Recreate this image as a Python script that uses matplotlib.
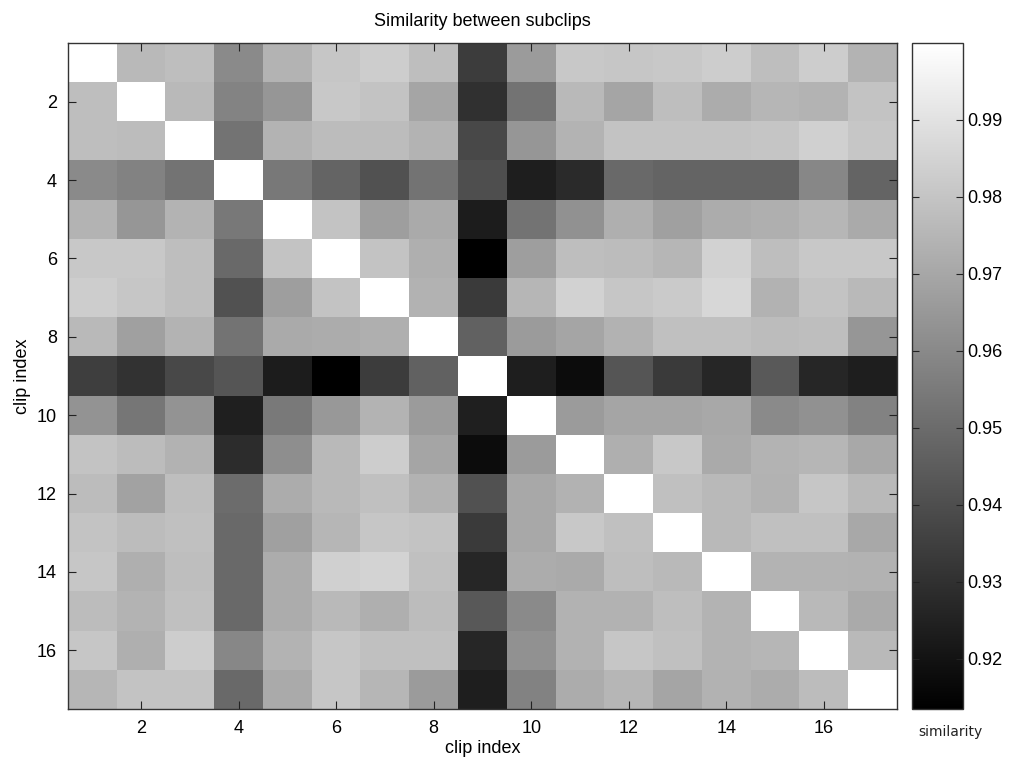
import numpy as np
import matplotlib
matplotlib.use("Agg")
import matplotlib.pyplot as plt

plt.rcParams['font.family'] = ['Liberation Sans', 'DejaVu Sans']

# pairwise similarity between the 17 subclips (row i, column j)
row01 = [1.0, 0.9762, 0.9779, 0.9603, 0.9745, 0.9806, 0.9830, 0.9779, 0.9338, 0.9661, 0.9813, 0.9806, 0.9813, 0.9830, 0.9779, 0.9830, 0.9745]
row02 = [0.9779, 1.0, 0.9762, 0.9582, 0.9644, 0.9813, 0.9796, 0.9694, 0.9298, 0.9525, 0.9762, 0.9694, 0.9779, 0.9718, 0.9752, 0.9745, 0.9796]
row03 = [0.9779, 0.9772, 1.0, 0.9525, 0.9745, 0.9772, 0.9772, 0.9745, 0.9379, 0.9644, 0.9745, 0.9796, 0.9796, 0.9796, 0.9803, 0.9840, 0.9806]
row04 = [0.9603, 0.9576, 0.9525, 1.0, 0.9542, 0.9474, 0.9413, 0.9525, 0.9399, 0.9237, 0.9277, 0.9491, 0.9474, 0.9474, 0.9474, 0.9593, 0.9474]
row05 = [0.9745, 0.9644, 0.9745, 0.9542, 1.0, 0.9796, 0.9671, 0.9711, 0.9230, 0.9525, 0.9627, 0.9728, 0.9677, 0.9718, 0.9728, 0.9752, 0.9711]
row06 = [0.9813, 0.9813, 0.9779, 0.9491, 0.9796, 1.0, 0.9796, 0.9728, 0.9135, 0.9671, 0.9779, 0.9772, 0.9752, 0.9847, 0.9779, 0.9813, 0.9813]
row07 = [0.9830, 0.9806, 0.9779, 0.9413, 0.9671, 0.9796, 1.0, 0.9738, 0.9332, 0.9752, 0.9847, 0.9806, 0.9820, 0.9864, 0.9738, 0.9796, 0.9762]
row08 = [0.9762, 0.9677, 0.9745, 0.9525, 0.9711, 0.9718, 0.9728, 1.0, 0.9467, 0.9661, 0.9694, 0.9738, 0.9786, 0.9786, 0.9772, 0.9779, 0.9644]
row09 = [0.9345, 0.9305, 0.9379, 0.9423, 0.9230, 0.9135, 0.9338, 0.9467, 1.0, 0.9237, 0.9176, 0.9423, 0.9332, 0.9264, 0.9440, 0.9264, 0.9237]
row10 = [0.9637, 0.9535, 0.9637, 0.9243, 0.9549, 0.9650, 0.9745, 0.9661, 0.9243, 1.0, 0.9661, 0.9694, 0.9694, 0.9705, 0.9603, 0.9627, 0.9576]
row11 = [0.9796, 0.9772, 0.9738, 0.9288, 0.9616, 0.9762, 0.9830, 0.9694, 0.9176, 0.9661, 1.0, 0.9728, 0.9813, 0.9711, 0.9745, 0.9752, 0.9705]
row12 = [0.9772, 0.9684, 0.9779, 0.9501, 0.9718, 0.9762, 0.9786, 0.9738, 0.9413, 0.9705, 0.9738, 1.0, 0.9786, 0.9762, 0.9738, 0.9806, 0.9762]
row13 = [0.9796, 0.9772, 0.9786, 0.9491, 0.9677, 0.9752, 0.9806, 0.9796, 0.9332, 0.9705, 0.9813, 0.9786, 1.0, 0.9762, 0.9786, 0.9786, 0.9705]
row14 = [0.9806, 0.9728, 0.9779, 0.9491, 0.9718, 0.9840, 0.9854, 0.9786, 0.9264, 0.9718, 0.9711, 0.9779, 0.9762, 1.0, 0.9745, 0.9745, 0.9738]
row15 = [0.9772, 0.9745, 0.9786, 0.9491, 0.9718, 0.9762, 0.9728, 0.9772, 0.9433, 0.9603, 0.9738, 0.9738, 0.9779, 0.9745, 1.0, 0.9762, 0.9711]
row16 = [0.9806, 0.9728, 0.9830, 0.9593, 0.9745, 0.9806, 0.9786, 0.9786, 0.9264, 0.9627, 0.9738, 0.9806, 0.9786, 0.9745, 0.9752, 1.0, 0.9762]
row17 = [0.9752, 0.9796, 0.9796, 0.9491, 0.9711, 0.9806, 0.9752, 0.9661, 0.9237, 0.9576, 0.9718, 0.9752, 0.9694, 0.9738, 0.9718, 0.9772, 1.0]

axis_ticks = [2, 4, 6, 8, 10, 12, 14, 16]
cbar_ticks = [0.92, 0.93, 0.94, 0.95, 0.96, 0.97, 0.98, 0.99]

sim = np.array([row01, row02, row03, row04, row05, row06, row07, row08, row09,
                row10, row11, row12, row13, row14, row15, row16, row17])
n = sim.shape[0]

W, H = 1015, 765
fig = plt.figure(figsize=(W / 100, H / 100), dpi=100)
ax = fig.add_axes([68 / W, 1 - 709 / H, (897 - 68) / W, (709 - 43) / H])
cax = fig.add_axes([912 / W, 1 - 709 / H, 51 / W, (709 - 43) / H])

im = ax.imshow(sim, cmap='gray', vmin=0.9135, vmax=1.0, aspect='auto',
               interpolation='nearest', extent=(0.5, n + 0.5, n + 0.5, 0.5))

ax.set_xticks(axis_ticks)
ax.set_yticks(axis_ticks)
ax.tick_params(direction='in', length=6, width=0.8, color='#222222',
               top=True, right=True, labelsize=13, pad=8)
for s in ax.spines.values():
    s.set_color('#333333')
    s.set_linewidth(1.0)

ax.set_title('Similarity between subclips', fontsize=13, pad=12)
ax.set_xlabel('clip index', fontsize=13, labelpad=2)
ax.set_ylabel('clip index', fontsize=13, labelpad=4)

cb = fig.colorbar(im, cax=cax)
cb.set_ticks(cbar_ticks)
cb.set_ticklabels([f'{t:.2f}' for t in cbar_ticks])
cax.tick_params(direction='in', length=5, width=0.8, color='#222222',
                left=True, right=True, labelsize=13, pad=3)
cb.outline.set_edgecolor('#333333')
cb.outline.set_linewidth(1.0)

fig.text(950 / W, 1 - 732 / H, 'similarity', ha='center', va='center',
         fontsize=10, family='DejaVu Sans', color='#222222')

fig.savefig('out.png', dpi=100)
